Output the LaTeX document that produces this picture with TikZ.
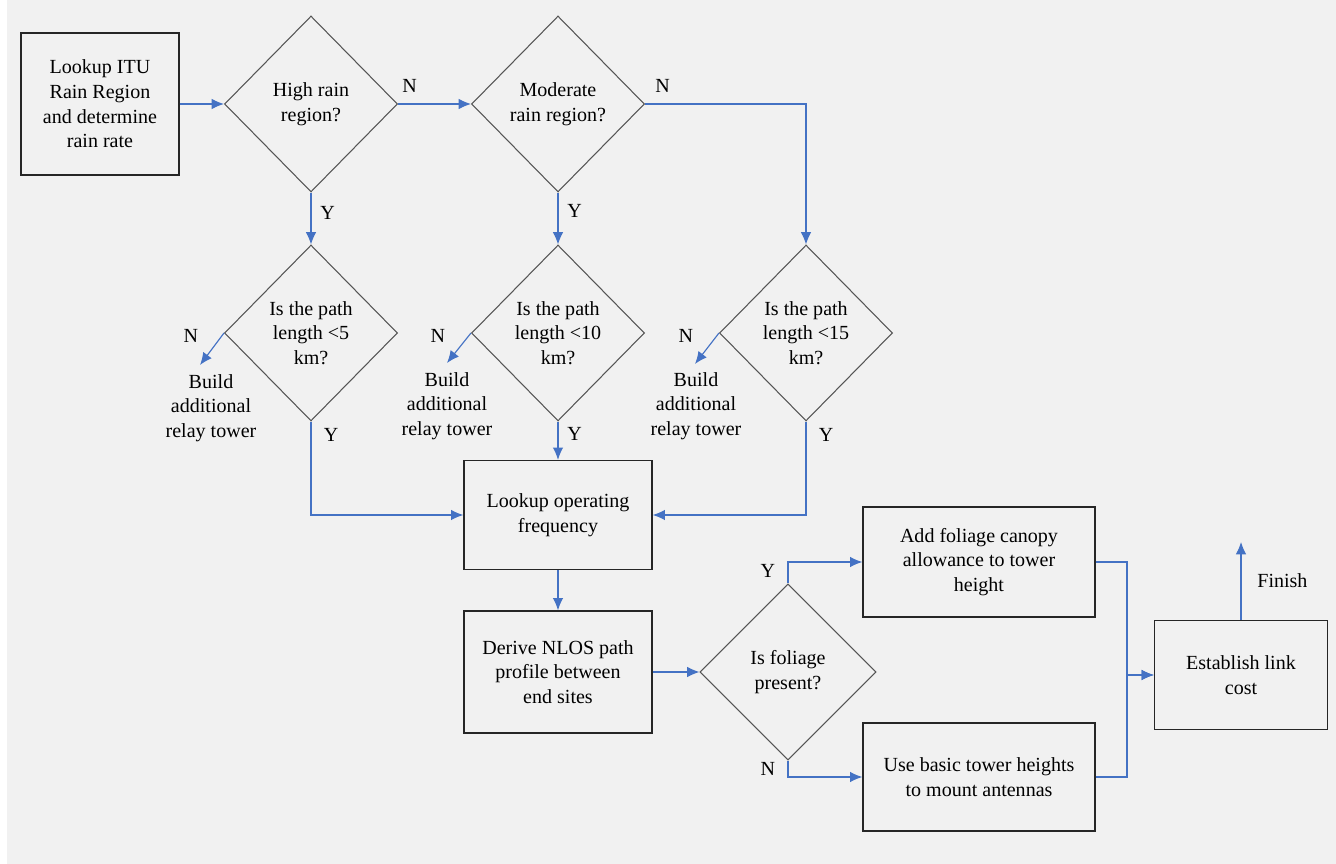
\documentclass[tikz,border=0pt]{standalone}
\usepackage{fontspec}
\newfontfamily\tnr{Liberation Serif}
\usetikzlibrary{shapes.geometric,arrows.meta,calc}
\definecolor{bgc}{HTML}{F1F1F1}
\definecolor{arr}{HTML}{4472C4}
\definecolor{dgr}{HTML}{555555}
\newcommand{\chfont}{\tnr\fontsize{11.4}{14}\selectfont}
\tikzset{% styles for the flow chart
    box/.style={rectangle, draw=black!85, line width=0.8pt, align=center, inner sep=2pt, font=\chfont},
    dia/.style={diamond, draw=dgr, line width=0.6pt, align=center, inner sep=0pt, font=\chfont,
        minimum width=3.46cm, minimum height=3.52cm},
    txt/.style={align=center, inner sep=0pt, font=\chfont},
    lbl/.style={inner sep=1pt, font=\chfont},
    e/.style={-{Latex[length=7pt,width=6pt]}, draw=arr, line width=0.65pt}}

\begin{document}
\begin{tikzpicture}[x=0.02cm, y=-0.02cm]
    \fill[white] (0,0) rectangle (1336,864);
    \fill[bgc] (7,0) rectangle (1336,864);

    \node[box, minimum width=3.16cm, minimum height=2.84cm] (itu) at (100,104) {Lookup ITU\\Rain Region\\and determine\\rain rate};
    \node[dia] (d1) at (311,104) {High rain\\region?};
    \node[dia] (d2) at (558,104) {Moderate\\rain region?};
    \node[dia] (d3) at (311,333) {Is the path\\length <5\\km?};
    \node[dia] (d4) at (558,333) {Is the path\\length <10\\km?};
    \node[dia] (d5) at (806,333) {Is the path\\length <15\\km?};
    \node[txt] (b1) at (211,408) {Build\\additional\\relay tower};
    \node[txt] (b2) at (447,406) {Build\\additional\\relay tower};
    \node[txt] (b3) at (696,406) {Build\\additional\\relay tower};
    \node[box, minimum width=3.76cm, minimum height=2.18cm] (lof) at (558,515) {Lookup operating\\frequency};
    \node[box, minimum width=3.76cm, minimum height=2.44cm] (nlos) at (558,672) {Derive NLOS path\\profile between\\end sites};
    \node[dia, minimum width=3.52cm] (d6) at (788,672) {Is foliage\\present?};
    \node[box, minimum width=4.64cm, minimum height=2.2cm] (fol) at (979,562) {Add foliage canopy\\allowance to tower\\height};
    \node[box, minimum width=4.64cm, minimum height=2.16cm] (use) at (979,777) {Use basic tower heights\\to mount antennas};
    \node[box, minimum width=3.46cm, minimum height=2.18cm] (est) at (1241,675) {Establish link\\cost};

    \coordinate (n1) at (200,365);
    \coordinate (n2) at (447,363);
    \coordinate (n3) at (695,364);
    \coordinate (j) at (1127,675);
    \coordinate (fin) at (1241,542);

    \draw[e] (itu) -- (d1);
    \draw[e] (d1) -- node[lbl, pos=0.16, above=5pt]{N} (d2);
    \draw[e] (d2.east) -| node[lbl, pos=0.055, above=5pt]{N} (d5.north);
    \draw[e] (d1) -- node[lbl, pos=0.4, right=4pt]{Y} (d3);
    \draw[e] (d2) -- node[lbl, pos=0.36, right=4pt]{Y} (d4);
    \draw[e] (d3.west) -- node[lbl, pos=0.1, left=12pt]{N} (n1);
    \draw[e] (d4.west) -- node[lbl, pos=0.1, left=12pt]{N} (n2);
    \draw[e] (d5.west) -- node[lbl, pos=0.1, left=12pt]{N} (n3);
    \draw[e] (d3.south) |- node[lbl, pos=0.07, right=6pt]{Y} (lof.west);
    \draw[e] (d4) -- node[lbl, pos=0.33, right=4pt]{Y} (lof);
    \draw[e] (d5.south) |- node[lbl, pos=0.07, right=6pt]{Y} (lof.east);
    \draw[e] (lof) -- (nlos);
    \draw[e] (nlos) -- (d6);
    \draw[e] (d6.north) |- node[lbl, pos=0.3, left=6pt]{Y} (fol.west);
    \draw[e] (d6.south) |- node[lbl, pos=0.25, left=6pt]{N} (use.west);
    \draw[e] (fol.east) -| (j) -- (est);
    \draw[e] (use.east) -| (j) -- (est);
    \draw[e] (est) -- node[lbl, right=8pt]{Finish} (fin);
\end{tikzpicture}
\end{document}
